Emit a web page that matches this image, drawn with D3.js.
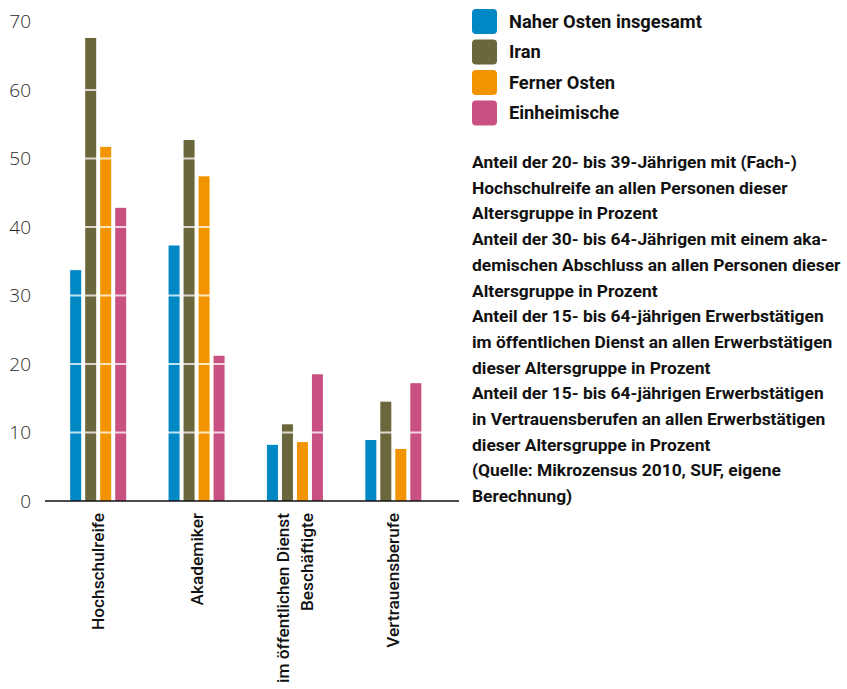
<!DOCTYPE html>
<html>
<head>
<meta charset="utf-8">
<script src="https://cdn.jsdelivr.net/npm/d3@7"></script>
<style>
  html, body { margin: 0; padding: 0; background: #ffffff; }
  svg { display: block; }
</style>
</head>
<body>
<svg id="chart" width="847" height="689"></svg>
<script>
// ---- data ----
const categories = ["Hochschulreife", "Akademiker", "im öffentlichen Dienst Beschäftigte", "Vertrauensberufe"];
const categoryLines = [["Hochschulreife"], ["Akademiker"], ["im öffentlichen Dienst", "Beschäftigte"], ["Vertrauensberufe"]];
const seriesNames = ["Naher Osten insgesamt", "Iran", "Ferner Osten", "Einheimische"];
const seriesColors = ["#0088c4", "#6b673c", "#f29400", "#c95182"];
const naherOsten = [33.7, 37.3, 8.2, 8.9];
const iran = [67.6, 52.7, 11.2, 14.5];
const fernerOsten = [51.7, 47.4, 8.6, 7.6];
const einheimische = [42.8, 21.2, 18.5, 17.2];
const seriesValues = [naherOsten, iran, fernerOsten, einheimische];
const yTicks = [0, 10, 20, 30, 40, 50, 60, 70];
const noteLines = [
  "Anteil der 20- bis 39-Jährigen mit (Fach-)",
  "Hochschulreife an allen Personen dieser",
  "Altersgruppe in Prozent",
  "Anteil der 30- bis 64-Jährigen mit einem aka-",
  "demischen Abschluss an allen Personen dieser",
  "Altersgruppe in Prozent",
  "Anteil der 15- bis 64-jährigen Erwerbstätigen",
  "im öffentlichen Dienst an allen Erwerbstätigen",
  "dieser Altersgruppe in Prozent",
  "Anteil der 15- bis 64-jährigen Erwerbstätigen",
  "in Vertrauensberufen an allen Erwerbstätigen",
  "dieser Altersgruppe in Prozent",
  "(Quelle: Mikrozensus 2010, SUF, eigene",
  "Berechnung)"
];

// ---- layout ----
const svg = d3.select("#chart");
const boldFont = "Roboto, 'Open Sans', sans-serif";

const x0 = d3.scaleBand().domain(categories).range([49, 442.5]).paddingInner(0).paddingOuter(0);
const x1 = d3.scaleBand().domain(seriesNames).range([-28, 28]).paddingInner(4 / 15).paddingOuter(0);
const y = d3.scaleLinear().domain([0, 70]).range([501, 21.5]);

// bars
const groups = svg.append("g").selectAll("g")
  .data(categories)
  .join("g")
  .attr("transform", d => `translate(${x0(d) + x0.bandwidth() / 2},0)`);

groups.selectAll("rect")
  .data((c, ci) => seriesNames.map((s, si) => ({ s, si, v: seriesValues[si][ci] })))
  .join("rect")
  .attr("x", d => x1(d.s))
  .attr("width", x1.bandwidth())
  .attr("y", d => y(d.v))
  .attr("height", d => y(0) - y(d.v))
  .attr("fill", d => seriesColors[d.si]);

// white gridlines over bars
svg.append("g").selectAll("line")
  .data(yTicks.filter(t => t > 0))
  .join("line")
  .attr("x1", 46).attr("x2", 459)
  .attr("y1", d => y(d)).attr("y2", d => y(d))
  .attr("stroke", "#ffffff")
  .attr("stroke-opacity", 0.75)
  .attr("stroke-width", 2);

// y axis tick labels
const yAxis = svg.append("g")
  .attr("transform", "translate(31,0)")
  .call(d3.axisLeft(y).tickValues(yTicks).tickSize(0).tickPadding(0));
yAxis.select(".domain").remove();
yAxis.selectAll("text")
  .attr("font-family", "'Open Sans', sans-serif")
  .attr("font-weight", 300)
  .attr("font-size", 19)
  .attr("fill", "#2a2a2a");

// baseline
svg.append("line")
  .attr("x1", 45).attr("x2", 459)
  .attr("y1", y(0)).attr("y2", y(0))
  .attr("stroke", "#111111")
  .attr("stroke-width", 1.6);

// category labels
categories.forEach((c, ci) => {
  const lines = categoryLines[ci];
  const cx = x0(c) + x0.bandwidth() / 2;
  lines.forEach((ln, li) => {
    const off = (li - (lines.length - 1) / 2) * 24;
    svg.append("text")
      .attr("transform", `translate(${cx + off},513) rotate(-90)`)
      .attr("text-anchor", "end")
      .attr("dy", "0.35em")
      .attr("font-family", boldFont)
      .attr("font-weight", 500)
      .attr("font-size", 17.3)
      .attr("fill", "#111111")
      .text(ln);
  });
});

// legend
const legend = svg.append("g").attr("transform", "translate(472,9)");
seriesNames.forEach((s, i) => {
  const g = legend.append("g").attr("transform", `translate(0,${i * 30.5})`);
  g.append("rect").attr("width", 25).attr("height", 25).attr("rx", 4).attr("fill", seriesColors[i]);
  g.append("text")
    .attr("x", 37).attr("y", 12.5).attr("dy", "0.35em")
    .attr("font-family", boldFont).attr("font-weight", 700).attr("font-size", 18.3)
    .attr("fill", "#111111")
    .text(s);
});

// note text
const note = svg.append("text")
  .attr("font-family", boldFont).attr("font-weight", 700).attr("font-size", 17.4)
  .attr("fill", "#111111");
noteLines.forEach((ln, i) => {
  note.append("tspan").attr("x", 472).attr("y", 162 + i * 25.7).attr("dy", "0.35em").text(ln);
});
</script>
</body>
</html>
